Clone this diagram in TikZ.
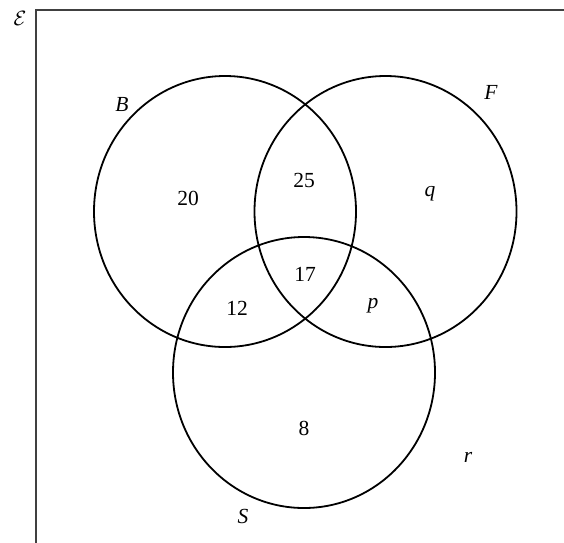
\documentclass[tikz,border=0pt]{standalone}
\usepackage{fontspec}
\setmainfont{Liberation Serif}
\usetikzlibrary{shapes.geometric}
\begin{document}
\begin{tikzpicture}[x=1pt,y=-1pt,
    set/.style={draw, ellipse, line width=1.8pt, minimum width=262pt, minimum height=271pt, inner sep=0pt},
    num/.style={font=\fontsize{21.5}{25}\selectfont, inner sep=0pt},
    lbl/.style={font=\fontsize{21.5}{25}\selectfont\itshape, inner sep=0pt}]
    \useasboundingbox (0,0) rectangle (564,542);
    \fill[white] (0,0) rectangle (564,542);
    % universal set, runs off the page at right and bottom
    \draw[line width=2pt, black!75] (36,560) |- (580,10);
    \node[font=\fontsize{20}{24}\selectfont, inner sep=0pt] (univ) at (20,18) {$\mathcal{E}$};
    % the three sets
    \node[set] (setB) at (225,211.5) {};
    \node[set] (setF) at (385.5,211.5) {};
    \node[set] (setS) at (304,372.5) {};
    \node[lbl] (labB) at (122,104) {B};
    \node[lbl] (labF) at (491,92) {F};
    \node[lbl] (labS) at (243,516) {S};
    % region counts
    \node[num] (onlyB) at (188,198) {20};
    \node[num] (BF) at (304,180) {25};
    \node[lbl] (onlyF) at (430,194) {q};
    \node[num] (BFS) at (305,274) {17};
    \node[num] (BS) at (237,308) {12};
    \node[lbl] (FS) at (373,306) {p};
    \node[num] (onlyS) at (304,428) {8};
    \node[lbl] (none) at (468,457) {r};
\end{tikzpicture}
\end{document}
